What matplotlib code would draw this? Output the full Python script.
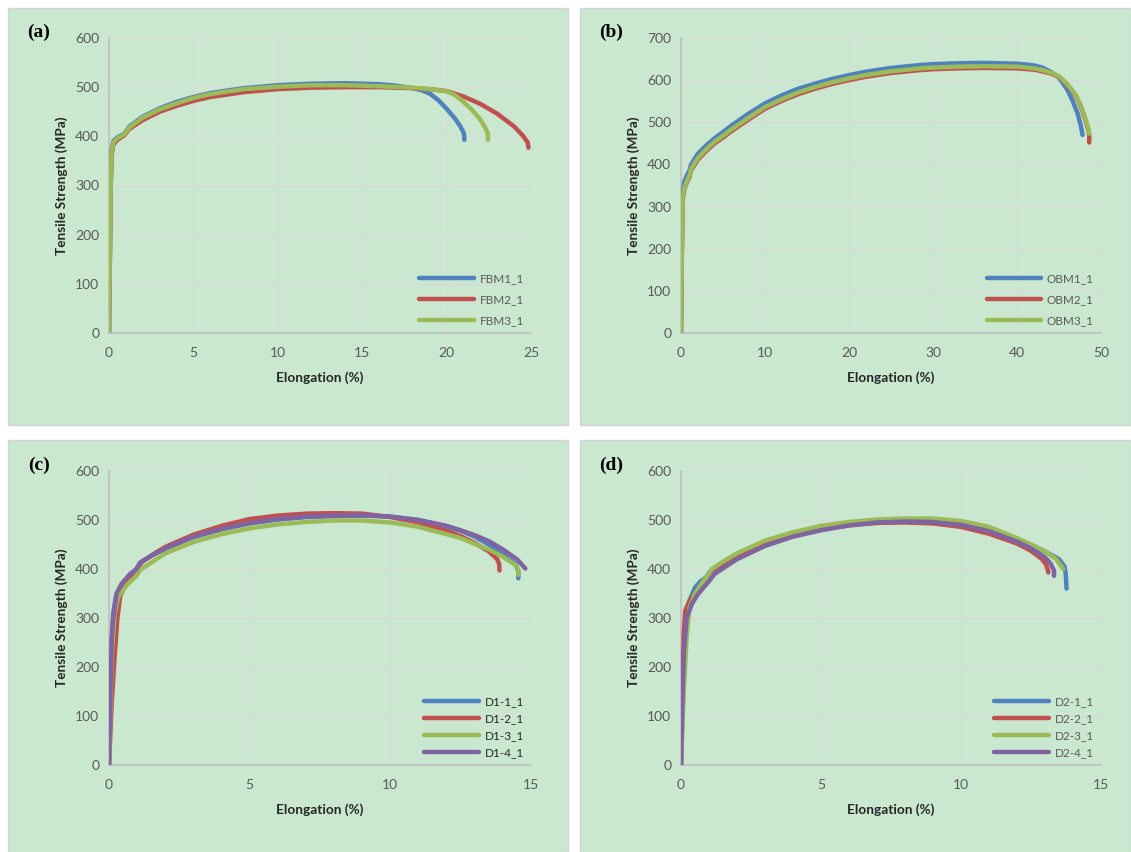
import matplotlib
matplotlib.use("Agg")
import matplotlib.pyplot as plt
from matplotlib.patches import Rectangle

plt.rcParams['font.family'] = ['Lato', 'DejaVu Sans']

# ---------------- data ----------------
# Panel (a)
fbm1_x = [0, 0.05, 0.1, 0.15, 0.25, 0.5, 0.9, 1.0, 1.2, 2, 3, 4, 5, 6, 8, 10, 12, 14, 16, 17, 18, 18.5, 19, 19.5, 20, 20.5, 20.8, 21.0, 21.05, 21.05]
fbm1_y = [0, 150, 300, 370, 390, 398, 405, 410, 420, 440, 457, 470, 480, 488, 498, 504, 507, 508, 506, 503, 498, 494, 487, 474, 456, 436, 421, 408, 400, 393]
fbm2_x = [0, 0.05, 0.1, 0.15, 0.25, 0.5, 0.9, 1.0, 1.2, 2, 3, 4, 5, 6, 8, 10, 12, 14, 16, 18, 19, 20, 21, 22, 23, 24, 24.5, 24.8, 24.85]
fbm2_y = [0, 150, 290, 360, 383, 393, 402, 406, 415, 433, 450, 462, 472, 480, 490, 496, 499, 500, 500, 498, 496, 492, 481, 466, 446, 420, 402, 388, 377]
fbm3_x = [0, 0.05, 0.1, 0.15, 0.25, 0.5, 0.9, 1.0, 1.2, 2, 3, 4, 5, 6, 8, 10, 12, 14, 16, 18, 19, 20, 20.5, 21, 21.5, 22, 22.3, 22.45, 22.45]
fbm3_y = [0, 150, 295, 365, 387, 396, 404, 408, 418, 438, 455, 467, 478, 486, 496, 501, 504, 504, 502, 499, 496, 492, 484, 470, 454, 434, 417, 405, 393]

# Panel (b)
obm1_x = [0, 0.1, 0.2, 0.4, 0.8, 1.0, 1.2, 2, 3, 4, 5, 6, 8, 10, 12, 14, 16, 18, 20, 22, 25, 28, 30, 33, 36, 40, 42, 43, 44, 45, 46, 46.6, 47.2, 47.6, 47.8]
obm1_y = [0, 200, 330, 360, 378, 385, 400, 425, 445, 462, 477, 492, 520, 545, 564, 580, 592, 603, 612, 620, 629, 635, 638, 640, 641, 639, 635, 630, 620, 606, 577, 552, 522, 492, 470]
obm2_x = [0, 0.1, 0.2, 0.4, 0.8, 1.0, 1.2, 2, 3, 4, 5, 6, 8, 10, 12, 14, 16, 18, 20, 22, 25, 28, 30, 33, 36, 40, 42, 43, 44, 45, 46, 47, 47.6, 48.2, 48.5, 48.6, 48.6]
obm2_y = [0, 185, 315, 342, 362, 369, 386, 411, 432, 450, 464, 479, 506, 532, 551, 567, 580, 591, 600, 608, 617, 623, 626, 628, 629, 628, 625, 621, 616, 608, 589, 563, 537, 502, 481, 470, 452]
obm3_x = [0, 0.1, 0.2, 0.4, 0.8, 1.0, 1.2, 2, 3, 4, 5, 6, 8, 10, 12, 14, 16, 18, 20, 22, 25, 28, 30, 33, 36, 40, 42, 43, 44, 45, 46, 47, 47.6, 48.2, 48.5, 48.6]
obm3_y = [0, 190, 320, 345, 365, 372, 390, 415, 436, 454, 468, 483, 510, 536, 555, 571, 584, 595, 604, 612, 621, 627, 630, 632, 633, 632, 628, 624, 618, 609, 590, 565, 540, 505, 485, 473]

# Panel (c)
d11_x = [0, 0.05, 0.1, 0.15, 0.25, 0.45, 0.75, 0.95, 1.1, 1.5, 2, 3, 4, 5, 6, 7, 8, 9, 10, 11, 12, 12.5, 13, 13.5, 14, 14.45, 14.55, 14.55]
d11_y = [0, 150, 260, 310, 345, 368, 388, 398, 412, 427, 442, 465, 481, 493, 501, 506, 508, 509, 507, 500, 487, 478, 466, 450, 430, 410, 395, 381]
d12_x = [0, 0.1, 0.2, 0.3, 0.4, 0.6, 0.9, 1.05, 1.2, 1.6, 2, 3, 4, 5, 6, 7, 8, 9, 10, 11, 12, 12.5, 13, 13.5, 13.8, 13.87, 13.88]
d12_y = [0, 130, 220, 300, 345, 370, 392, 405, 416, 431, 445, 470, 488, 502, 509, 513, 514, 513, 506, 495, 478, 467, 453, 436, 420, 410, 397]
d13_x = [0, 0.05, 0.1, 0.2, 0.33, 0.63, 0.98, 1.1, 1.5, 2, 3, 4, 5, 6, 7, 8, 9, 10, 11, 12, 12.5, 13, 13.5, 14, 14.45, 14.55, 14.55]
d13_y = [0, 120, 230, 310, 343, 367, 386, 398, 413, 432, 455, 471, 483, 491, 496, 499, 499, 495, 486, 471, 463, 451, 440, 425, 408, 398, 388]
d14_x = [0, 0.05, 0.1, 0.15, 0.27, 0.45, 0.75, 0.98, 1.1, 1.6, 2, 3, 4, 5, 6, 7, 8, 9, 10, 11, 12, 12.5, 13, 13.5, 14, 14.5, 14.8]
d14_y = [0, 150, 260, 300, 350, 370, 390, 400, 413, 430, 442, 466, 482, 494, 502, 507, 509, 510, 507, 500, 488, 479, 469, 457, 440, 420, 401]

# Panel (d)
d21_x = [0, 0.1, 0.2, 0.3, 0.5, 0.7, 0.9, 1.0, 1.2, 2, 3, 4, 5, 6, 7, 8, 9, 10, 11, 12, 12.5, 13, 13.5, 13.7, 13.74, 13.77]
d21_y = [0, 200, 300, 335, 362, 375, 383, 392, 400, 428, 452, 470, 483, 492, 497, 499, 499, 494, 481, 459, 449, 436, 420, 405, 390, 360]
d22_x = [0, 0.05, 0.1, 0.15, 0.3, 0.5, 0.8, 1.0, 1.2, 2, 3, 4, 5, 6, 7, 8, 9, 10, 11, 12, 12.5, 12.9, 13.05, 13.12]
d22_y = [0, 150, 270, 315, 335, 350, 370, 380, 392, 425, 450, 468, 481, 489, 494, 495, 493, 486, 472, 452, 437, 420, 408, 393]
d23_x = [0, 0.1, 0.2, 0.3, 0.5, 0.8, 1.0, 1.1, 1.5, 2, 3, 4, 5, 6, 7, 8, 9, 10, 11, 12, 12.5, 13, 13.4, 13.65]
d23_y = [0, 150, 260, 320, 350, 375, 390, 400, 415, 432, 458, 475, 488, 496, 501, 503, 503, 498, 486, 463, 450, 436, 420, 400]
d24_x = [0, 0.05, 0.1, 0.2, 0.4, 0.6, 0.8, 1.0, 1.2, 2, 3, 4, 5, 6, 7, 8, 9, 10, 11, 12, 12.5, 13, 13.2, 13.32, 13.32]
d24_y = [0, 130, 230, 300, 330, 348, 362, 375, 390, 420, 447, 466, 479, 489, 495, 497, 496, 490, 477, 456, 442, 424, 411, 397, 386]

# ---------------- style ----------------
BLUE, RED, GREEN, PURPLE = '#4F81BD', '#C0504D', '#9BBB59', '#8064A2'
BG = '#CAE8CF'
W, H = 1131, 852

fig = plt.figure(figsize=(W / 100, H / 100), dpi=100)
fig.patch.set_facecolor('white')

def px_rect(x0, y0, x1, y1):
    return (x0 / W, 1 - y1 / H, (x1 - x0) / W, (y1 - y0) / H)

# background panels
for (x0, y0, x1, y1) in [(8, 8, 568, 425), (580, 8, 1131, 425), (8, 440, 568, 852), (580, 440, 1131, 852)]:
    l, b, w, h = px_rect(x0, y0, x1, y1)
    fig.patches.append(Rectangle((l, b), w, h, transform=fig.transFigure,
                                 facecolor=BG, edgecolor='#D4D4D4', lw=1.0, zorder=-5))

panels = [
    dict(rect=(109, 38, 531, 333), xmax=25, xstep=5, ymax=600, label='(a)',
         series=[(fbm1_x, fbm1_y, BLUE, 'FBM1_1'), (fbm2_x, fbm2_y, RED, 'FBM2_1'), (fbm3_x, fbm3_y, GREEN, 'FBM3_1')],
         leg_spacing=0.85, leg_color='#595959'),
    dict(rect=(681, 38, 1101, 333), xmax=50, xstep=10, ymax=700, label='(b)',
         series=[(obm1_x, obm1_y, BLUE, 'OBM1_1'), (obm2_x, obm2_y, RED, 'OBM2_1'), (obm3_x, obm3_y, GREEN, 'OBM3_1')],
         leg_spacing=0.85, leg_color='#595959'),
    dict(rect=(109, 471, 531, 765), xmax=15, xstep=5, ymax=600, label='(c)',
         series=[(d11_x, d11_y, BLUE, 'D1-1_1'), (d12_x, d12_y, RED, 'D1-2_1'), (d13_x, d13_y, GREEN, 'D1-3_1'), (d14_x, d14_y, PURPLE, 'D1-4_1')],
         leg_spacing=0.5, leg_color='#262626'),
    dict(rect=(681, 471, 1101, 765), xmax=15, xstep=5, ymax=600, label='(d)',
         series=[(d21_x, d21_y, BLUE, 'D2-1_1'), (d22_x, d22_y, RED, 'D2-2_1'), (d23_x, d23_y, GREEN, 'D2-3_1'), (d24_x, d24_y, PURPLE, 'D2-4_1')],
         leg_spacing=0.5, leg_color='#595959'),
]

for p in panels:
    x0, y0, x1, y1 = p['rect']
    ax = fig.add_axes(px_rect(x0, y0, x1, y1))
    ax.set_zorder(1)
    ax.set_facecolor('none')
    for xs, ys, c, lab in p['series']:
        ax.plot(xs, ys, color=c, lw=3.2, label=lab, solid_capstyle='round', solid_joinstyle='round', zorder=3)
    ax.set_xlim(0, p['xmax'])
    ax.set_ylim(0, p['ymax'])
    ax.set_xticks(list(range(0, p['xmax'] + 1, p['xstep'])))
    ax.set_yticks(list(range(0, p['ymax'] + 1, 100)))
    ax.grid(True, color='#D9D9D9', lw=1.0, zorder=0)
    ax.set_axisbelow(True)
    for s in ['top', 'right']:
        ax.spines[s].set_visible(False)
    for s in ['left', 'bottom']:
        ax.spines[s].set_color('#BFBFBF')
        ax.spines[s].set_linewidth(1.2)
    ax.tick_params(length=0, labelsize=10, labelcolor='#595959', pad=7)
    ax.tick_params(axis='x', pad=10)
    ax.set_xlabel('Elongation (%)', fontsize=9.8, fontweight='bold', color='#262626', labelpad=9)
    ax.set_ylabel('Tensile Strength (MPa)', fontsize=9.8, fontweight='bold', color='#262626', labelpad=5)
    leg = ax.legend(loc='lower right', bbox_to_anchor=(1.0, 0.0), frameon=False, fontsize=8.5,
                    handlelength=4.6, handletextpad=0.5, labelspacing=p['leg_spacing'],
                    borderaxespad=0.2)
    for t in leg.get_texts():
        t.set_color(p['leg_color'])
    for h in leg.get_lines():
        h.set_linewidth(3.2)
    # panel label
    fig.text((x0 - 70) / W, 1 - (y0 - 6) / H, p['label'], fontsize=14, fontweight='bold',
             family=['Liberation Serif', 'DejaVu Serif'], ha='center', va='center', color='black')

fig.savefig('out.png', dpi=100, facecolor='white')
